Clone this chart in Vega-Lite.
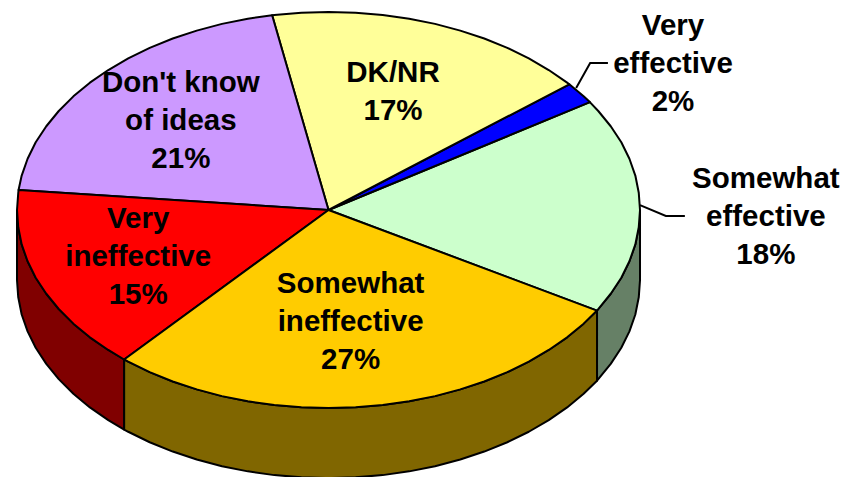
{"$schema":"https://vega.github.io/schema/vega-lite/v6.json","width":847,"height":477,"autosize":{"type":"fit","contains":"padding"},"padding":0,"background":"white","config":{"view":{"stroke":null}},
"datasets":{"pie":[
{"s":"w3","x":1,"y":0},{"s":"w3","x":0.996,"y":-0.087},{"s":"w3","x":0.985,"y":-0.174},{"s":"w3","x":0.966,"y":-0.259},{"s":"w3","x":0.94,"y":-0.342},{"s":"w3","x":0.906,"y":-0.423},{"s":"w3","x":0.866,"y":-0.5},{"s":"w3","x":0.862,"y":-0.508},{"s":"w3","x":0.862,"y":-0.862},{"s":"w3","x":0.866,"y":-0.854},{"s":"w3","x":0.906,"y":-0.777},{"s":"w3","x":0.94,"y":-0.696},{"s":"w3","x":0.966,"y":-0.613},{"s":"w3","x":0.985,"y":-0.528},{"s":"w3","x":0.996,"y":-0.441},{"s":"w3","x":1,"y":-0.354},{"s":"w3","x":1,"y":0},
{"s":"w1","x":-1,"y":0},{"s":"w1","x":-0.996,"y":-0.087},{"s":"w1","x":-0.985,"y":-0.174},{"s":"w1","x":-0.966,"y":-0.259},{"s":"w1","x":-0.94,"y":-0.342},{"s":"w1","x":-0.906,"y":-0.423},{"s":"w1","x":-0.866,"y":-0.5},{"s":"w1","x":-0.819,"y":-0.574},{"s":"w1","x":-0.766,"y":-0.643},{"s":"w1","x":-0.707,"y":-0.707},{"s":"w1","x":-0.656,"y":-0.755},{"s":"w1","x":-0.656,"y":-1.109},{"s":"w1","x":-0.707,"y":-1.061},{"s":"w1","x":-0.766,"y":-0.997},{"s":"w1","x":-0.819,"y":-0.928},{"s":"w1","x":-0.866,"y":-0.854},{"s":"w1","x":-0.906,"y":-0.777},{"s":"w1","x":-0.94,"y":-0.696},{"s":"w1","x":-0.966,"y":-0.613},{"s":"w1","x":-0.985,"y":-0.528},{"s":"w1","x":-0.996,"y":-0.441},{"s":"w1","x":-1,"y":-0.354},{"s":"w1","x":-1,"y":0},
{"s":"w2","x":0.862,"y":-0.508},{"s":"w2","x":0.819,"y":-0.574},{"s":"w2","x":0.766,"y":-0.643},{"s":"w2","x":0.707,"y":-0.707},{"s":"w2","x":0.643,"y":-0.766},{"s":"w2","x":0.574,"y":-0.819},{"s":"w2","x":0.5,"y":-0.866},{"s":"w2","x":0.423,"y":-0.906},{"s":"w2","x":0.342,"y":-0.94},{"s":"w2","x":0.259,"y":-0.966},{"s":"w2","x":0.174,"y":-0.985},{"s":"w2","x":0.087,"y":-0.996},{"s":"w2","x":0,"y":-1},{"s":"w2","x":-0.087,"y":-0.996},{"s":"w2","x":-0.174,"y":-0.985},{"s":"w2","x":-0.259,"y":-0.966},{"s":"w2","x":-0.342,"y":-0.94},{"s":"w2","x":-0.423,"y":-0.906},{"s":"w2","x":-0.5,"y":-0.866},{"s":"w2","x":-0.574,"y":-0.819},{"s":"w2","x":-0.643,"y":-0.766},{"s":"w2","x":-0.656,"y":-0.755},{"s":"w2","x":-0.656,"y":-1.109},{"s":"w2","x":-0.643,"y":-1.12},{"s":"w2","x":-0.574,"y":-1.173},{"s":"w2","x":-0.5,"y":-1.22},{"s":"w2","x":-0.423,"y":-1.26},{"s":"w2","x":-0.342,"y":-1.294},{"s":"w2","x":-0.259,"y":-1.32},{"s":"w2","x":-0.174,"y":-1.339},{"s":"w2","x":-0.087,"y":-1.35},{"s":"w2","x":0,"y":-1.354},{"s":"w2","x":0.087,"y":-1.35},{"s":"w2","x":0.174,"y":-1.339},{"s":"w2","x":0.259,"y":-1.32},{"s":"w2","x":0.342,"y":-1.294},{"s":"w2","x":0.423,"y":-1.26},{"s":"w2","x":0.5,"y":-1.22},{"s":"w2","x":0.574,"y":-1.173},{"s":"w2","x":0.643,"y":-1.12},{"s":"w2","x":0.707,"y":-1.061},{"s":"w2","x":0.766,"y":-0.997},{"s":"w2","x":0.819,"y":-0.928},{"s":"w2","x":0.862,"y":-0.862},{"s":"w2","x":0.862,"y":-0.508},
{"s":"Somewhat effective","x":0,"y":0},{"s":"Somewhat effective","x":0.862,"y":-0.508},{"s":"Somewhat effective","x":0.866,"y":-0.5},{"s":"Somewhat effective","x":0.906,"y":-0.423},{"s":"Somewhat effective","x":0.94,"y":-0.342},{"s":"Somewhat effective","x":0.966,"y":-0.259},{"s":"Somewhat effective","x":0.985,"y":-0.174},{"s":"Somewhat effective","x":0.996,"y":-0.087},{"s":"Somewhat effective","x":1,"y":0},{"s":"Somewhat effective","x":0.996,"y":0.087},{"s":"Somewhat effective","x":0.985,"y":0.174},{"s":"Somewhat effective","x":0.966,"y":0.259},{"s":"Somewhat effective","x":0.94,"y":0.342},{"s":"Somewhat effective","x":0.906,"y":0.423},{"s":"Somewhat effective","x":0.866,"y":0.5},{"s":"Somewhat effective","x":0.839,"y":0.545},{"s":"Somewhat effective","x":0,"y":0},
{"s":"Very effective","x":0,"y":0},{"s":"Very effective","x":0.839,"y":0.545},{"s":"Very effective","x":0.819,"y":0.574},{"s":"Very effective","x":0.773,"y":0.635},{"s":"Very effective","x":0,"y":0},
{"s":"DK/NR","x":0,"y":0},{"s":"DK/NR","x":0.773,"y":0.635},{"s":"DK/NR","x":0.766,"y":0.643},{"s":"DK/NR","x":0.707,"y":0.707},{"s":"DK/NR","x":0.643,"y":0.766},{"s":"DK/NR","x":0.574,"y":0.819},{"s":"DK/NR","x":0.5,"y":0.866},{"s":"DK/NR","x":0.423,"y":0.906},{"s":"DK/NR","x":0.342,"y":0.94},{"s":"DK/NR","x":0.259,"y":0.966},{"s":"DK/NR","x":0.174,"y":0.985},{"s":"DK/NR","x":0.087,"y":0.996},{"s":"DK/NR","x":0,"y":1},{"s":"DK/NR","x":-0.087,"y":0.996},{"s":"DK/NR","x":-0.174,"y":0.985},{"s":"DK/NR","x":-0.181,"y":0.984},{"s":"DK/NR","x":0,"y":0},
{"s":"Don't know of ideas","x":0,"y":0},{"s":"Don't know of ideas","x":-0.181,"y":0.984},{"s":"Don't know of ideas","x":-0.259,"y":0.966},{"s":"Don't know of ideas","x":-0.342,"y":0.94},{"s":"Don't know of ideas","x":-0.423,"y":0.906},{"s":"Don't know of ideas","x":-0.5,"y":0.866},{"s":"Don't know of ideas","x":-0.574,"y":0.819},{"s":"Don't know of ideas","x":-0.643,"y":0.766},{"s":"Don't know of ideas","x":-0.707,"y":0.707},{"s":"Don't know of ideas","x":-0.766,"y":0.643},{"s":"Don't know of ideas","x":-0.819,"y":0.574},{"s":"Don't know of ideas","x":-0.866,"y":0.5},{"s":"Don't know of ideas","x":-0.906,"y":0.423},{"s":"Don't know of ideas","x":-0.94,"y":0.342},{"s":"Don't know of ideas","x":-0.966,"y":0.259},{"s":"Don't know of ideas","x":-0.985,"y":0.174},{"s":"Don't know of ideas","x":-0.995,"y":0.101},{"s":"Don't know of ideas","x":0,"y":0},
{"s":"Very ineffective","x":0,"y":0},{"s":"Very ineffective","x":-0.995,"y":0.101},{"s":"Very ineffective","x":-0.996,"y":0.087},{"s":"Very ineffective","x":-1,"y":0},{"s":"Very ineffective","x":-0.996,"y":-0.087},{"s":"Very ineffective","x":-0.985,"y":-0.174},{"s":"Very ineffective","x":-0.966,"y":-0.259},{"s":"Very ineffective","x":-0.94,"y":-0.342},{"s":"Very ineffective","x":-0.906,"y":-0.423},{"s":"Very ineffective","x":-0.866,"y":-0.5},{"s":"Very ineffective","x":-0.819,"y":-0.574},{"s":"Very ineffective","x":-0.766,"y":-0.643},{"s":"Very ineffective","x":-0.707,"y":-0.707},{"s":"Very ineffective","x":-0.656,"y":-0.755},{"s":"Very ineffective","x":0,"y":0},
{"s":"Somewhat ineffective","x":0,"y":0},{"s":"Somewhat ineffective","x":-0.656,"y":-0.755},{"s":"Somewhat ineffective","x":-0.643,"y":-0.766},{"s":"Somewhat ineffective","x":-0.574,"y":-0.819},{"s":"Somewhat ineffective","x":-0.5,"y":-0.866},{"s":"Somewhat ineffective","x":-0.423,"y":-0.906},{"s":"Somewhat ineffective","x":-0.342,"y":-0.94},{"s":"Somewhat ineffective","x":-0.259,"y":-0.966},{"s":"Somewhat ineffective","x":-0.174,"y":-0.985},{"s":"Somewhat ineffective","x":-0.087,"y":-0.996},{"s":"Somewhat ineffective","x":0,"y":-1},{"s":"Somewhat ineffective","x":0.087,"y":-0.996},{"s":"Somewhat ineffective","x":0.174,"y":-0.985},{"s":"Somewhat ineffective","x":0.259,"y":-0.966},{"s":"Somewhat ineffective","x":0.342,"y":-0.94},{"s":"Somewhat ineffective","x":0.423,"y":-0.906},{"s":"Somewhat ineffective","x":0.5,"y":-0.866},{"s":"Somewhat ineffective","x":0.574,"y":-0.819},{"s":"Somewhat ineffective","x":0.643,"y":-0.766},{"s":"Somewhat ineffective","x":0.707,"y":-0.707},{"s":"Somewhat ineffective","x":0.766,"y":-0.643},{"s":"Somewhat ineffective","x":0.819,"y":-0.574},{"s":"Somewhat ineffective","x":0.862,"y":-0.508},{"s":"Somewhat ineffective","x":0,"y":0}
],
"leaders":[{"s":"a","x":0.795,"y":0.616},{"s":"a","x":0.84,"y":0.742},{"s":"a","x":0.897,"y":0.742},{"s":"b","x":1.0,"y":0.025},{"s":"b","x":1.083,"y":-0.03},{"s":"b","x":1.144,"y":-0.03}],
"labels":[{"t":"Very\neffective\n2%","x":1.106,"y":0.884},{"t":"Somewhat\neffective\n18%","x":1.404,"y":0.111},{"t":"Very\nineffective\n15%","x":-0.611,"y":-0.091},{"t":"Somewhat\nineffective\n27%","x":0.071,"y":-0.419},{"t":"Don't know\nof ideas\n21%","x":-0.474,"y":0.596},{"t":"DK/NR\n17%","x":0.207,"y":0.646}]},
"encoding":{"x":{"field":"x","type":"quantitative","axis":null,"scale":{"domain":[-1.0546,1.6645],"nice":false,"zero":false}},"y":{"field":"y","type":"quantitative","axis":null,"scale":{"domain":[-1.3485,1.0606],"nice":false,"zero":false}}},
"layer":[
{"data":{"name":"pie"},"transform":[{"window":[{"op":"row_number","as":"o"}]}],"mark":{"type":"line","stroke":"#000000","strokeWidth":2,"strokeJoin":"round","clip":true},"encoding":{"order":{"field":"o","type":"quantitative"},"fill":{"field":"s","type":"nominal","legend":null,"scale":{"domain":["w3","w1","w2","Somewhat effective","Very effective","DK/NR","Don't know of ideas","Very ineffective","Somewhat ineffective"],"range":["#668066","#800000","#806600","#CCFFCC","#0000FF","#FFFF99","#CC99FF","#FF0000","#FFCC00"]}}}},
{"data":{"name":"leaders"},"transform":[{"window":[{"op":"row_number","as":"o"}]}],"mark":{"type":"line","stroke":"#000000","strokeWidth":2},"encoding":{"detail":{"field":"s"},"order":{"field":"o","type":"quantitative"}}},
{"data":{"name":"labels"},"mark":{"type":"text","font":"Liberation Sans","fontWeight":"bold","fontSize":29.5,"align":"center","baseline":"alphabetic","lineBreak":"\n","lineHeight":38,"color":"#000000"},"encoding":{"text":{"field":"t"}}}
]}
